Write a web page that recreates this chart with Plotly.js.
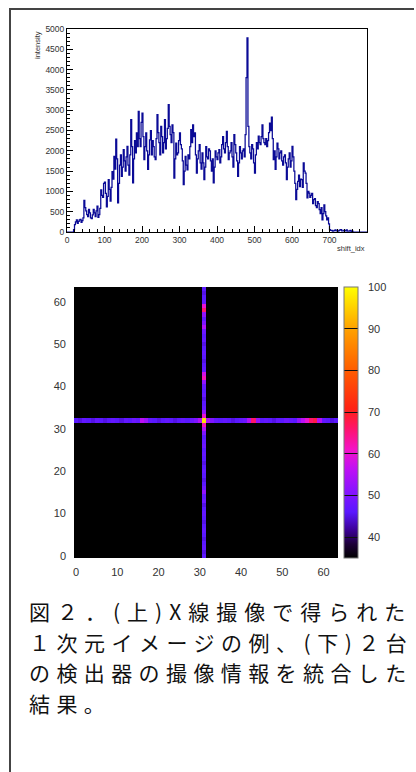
<!DOCTYPE html>
<html>
<head>
<meta charset="utf-8">
<script src="https://cdn.plot.ly/plotly-3.0.1.min.js"></script>
<style>html,body{margin:0;padding:0;background:#fff;}#chart{width:416px;height:772px;}</style>
</head>
<body>
<div id="chart"></div>
<script>
// ---- Top plot: 1D image histogram (shift_idx vs intensity), bins of width 2.5 starting at 0 ----
const binWidth = 2.5;
const intensity = [
  0,0, 0,0, 0,0, 0,60, 180,250, 300,210, 260,300, 310,240, 280,350, 780,600,
  520,430, 380,560, 470,350, 330,420, 560,470, 380,520, 640,360, 430,580, 1040,900, 850,1200,
  1230,950, 620,880, 1290,1050, 760,1100, 1490,1300, 1860,1550, 2290,1800, 720,1200, 1650,1900, 1370,1600,
  2030,1750, 1500,1850, 2110,1650, 1400,1900, 2770,2100, 1210,1800, 2250,1950, 2440,2100, 2970,2300, 2100,2700,
  2930,2350, 1780,2100, 2440,2000, 1540,1900, 2270,2500, 1900,2250, 2100,1850, 1780,2300, 2890,2450, 2200,1900,
  2600,2350, 1950,2200, 2770,2050, 2300,2550, 3140,2600, 2400,2200, 2640,2450, 1330,1800, 2190,1900, 1950,2250,
  2440,2150, 2050,1750, 1170,1500, 1860,1650, 1530,1900, 1800,2100, 2520,2200, 2640,2350, 2440,1900, 1450,1800,
  2000,2150, 1700,1550, 1950,1700, 1290,1600, 2100,1850, 1800,2050, 2000,1750, 1500,1800, 1210,1600, 2000,1850,
  1780,1950, 2030,1700, 1850,2150, 2350,2050, 1950,2200, 2480,2100, 1780,1950, 2000,2200, 1850,1600, 2400,2150,
  1950,1750, 1370,1700, 2100,1950, 1800,2000, 2050,1850, 2400,3800, 4780,2600, 2100,1950, 1800,2150, 2050,1700,
  1450,1900, 2200,2050, 2360,2200, 2150,2350, 2640,2300, 2200,2150, 2300,2100, 2250,2450, 2680,2500, 2830,2300,
  1780,2000, 1540,1850, 2190,2050, 1800,1950, 2000,1750, 1650,1850, 1900,1700, 1290,1600, 1800,1950, 1600,1750,
  2110,1850, 1500,1200, 800,1050, 1250,1400, 1120,1300, 1290,1100, 1700,1500, 1450,1200, 840,1000, 960,850,
  900,950, 700,800, 820,650, 600,750, 700,550, 450,600, 300,450, 670,500, 400,300, 350,200,
  60,40, 40,20, 30,40, 50,30, 30,20, 40,50, 60,30, 30,40, 40,30, 50,20,
  20,30, 40,10, 20,0, 0,0, 0,0, 0,0, 0,0, 0,0, 0,0, 0,0
];
const xTickVals = [0, 100, 200, 300, 400, 500, 600, 700];
const yTickVals = [0, 500, 1000, 1500, 2000, 2500, 3000, 3500, 4000, 4500, 5000];

// ---- Bottom plot: combined 64x64 image of the two detectors ----
const gridN = 64;
const backgroundVal = 35;
const crossX = 31;   // column of the vertical line
const crossY = 32;   // row of the horizontal line
const rowVals = [ // along horizontal line (y = crossY), x = 0..63
  46,45,47,46,45,47,46,45,46,47,
  46,45,47,46,48,47,56,53,47,46,
  45,46,47,46,45,46,47,46,48,50,
  55,97,55,50,47,46,47,46,45,46,
  47,48,55,66,52,46,47,46,45,47,
  46,48,47,46,52,56,60,66,68,55,
  47,46,45,46
];
const colVals = [ // along vertical line (x = crossX), y = 0..63
  46,45,47,46,45,46,47,46,45,46,
  47,46,45,48,47,52,48,46,45,46,
  47,46,45,46,47,46,48,47,46,50,
  55,62,97,60,52,47,46,45,47,46,
  47,52,62,58,47,46,45,46,47,46,
  45,47,46,48,55,50,47,52,66,60,
  47,46,45,46
];
const zRange = [35, 100];
const cbTickVals = [40, 50, 60, 70, 80, 90, 100];
const axisTickVals = [0, 10, 20, 30, 40, 50, 60];

const captionLines = [
  "図２．(上)X線撮像で得られた",
  "１次元イメージの例、(下)２台",
  "の検出器の撮像情報を統合した",
  "結果。"
];

// ---- build traces ----
const histX = intensity.map((_, i) => i * binWidth);
histX.push(intensity.length * binWidth);
const histY = intensity.slice();
histY.push(intensity[intensity.length - 1]);

const idx = Array.from({length: gridN}, (_, i) => i);
const z = idx.map(j => idx.map(i => {
  if (j === crossY) return rowVals[i];
  if (i === crossX) return colVals[j];
  return backgroundVal;
}));

const W = 416, H = 772;
const px = v => v / W;
const py = v => 1 - v / H;

const hist = {
  type: 'scatter', mode: 'lines', x: histX, y: histY,
  line: {shape: 'hv', color: '#0a0a96', width: 1.25},
  xaxis: 'x', yaxis: 'y', hoverinfo: 'skip'
};

const heat = {
  type: 'heatmap', x: idx, y: idx, z: z, zmin: zRange[0], zmax: zRange[1], zsmooth: false,
  xaxis: 'x2', yaxis: 'y2',
  colorscale: [
    [0.00, '#000000'], [0.05, '#1c0036'], [0.10, '#3a0090'], [0.17, '#5a18ff'],
    [0.25, '#8a14ff'], [0.33, '#c010f4'], [0.40, '#f414c8'], [0.48, '#ff1468'],
    [0.55, '#ff2214'], [0.70, '#ff6000'], [0.85, '#ffa400'], [1.00, '#ffff00']
  ],
  colorbar: {
    x: px(344), xanchor: 'left', xpad: 0, ypad: 0,
    y: py((287 + 558) / 2), yanchor: 'middle',
    len: (558 - 287) / H, lenmode: 'fraction',
    thickness: 14, thicknessmode: 'pixels',
    outlinewidth: 1, outlinecolor: '#777',
    tickvals: cbTickVals, ticks: 'inside', ticklen: 14, tickwidth: 1, tickcolor: '#111',
    showticklabels: false
  },
  hoverinfo: 'skip'
};

// empty trace so the colour-scale label axis is drawn
const cbAxisHolder = {type: 'scatter', mode: 'markers', x: [], y: [], xaxis: 'x2', yaxis: 'y3',
  hoverinfo: 'skip', showlegend: false};

const topFont = {family: 'Liberation Sans, Arial, sans-serif', size: 8.5, color: '#333'};
const titleFont = {family: 'Liberation Sans, Arial, sans-serif', size: 7.5, color: '#333'};
const heatFont = {family: 'Liberation Sans, Arial, sans-serif', size: 11, color: '#333'};

const annotations = [
  {xref: 'paper', yref: 'paper', x: px(37), y: py(29), xanchor: 'center', yanchor: 'top',
   text: 'intensity', textangle: -90, showarrow: false, font: titleFont},
  {xref: 'paper', yref: 'paper', x: px(367), y: py(248), xanchor: 'right', yanchor: 'middle',
   text: 'shift_idx', showarrow: false, font: titleFont}
];
const lineCenters = [611, 641.6, 672.2, 702.8];
const spacing = ['7.0px', '6.5px', '6.4px', '6.4px'];
captionLines.forEach((t, k) => {
  annotations.push({
    xref: 'paper', yref: 'paper', x: px(27), y: py(lineCenters[k]),
    xanchor: 'left', yanchor: 'middle', showarrow: false,
    text: '<span style="letter-spacing:' + spacing[k] + '">' + t + '</span>',
    font: {family: 'Noto Sans CJK JP, sans-serif', size: 21, color: '#111'}
  });
});

const layout = {
  width: W, height: H, margin: {l: 0, r: 0, t: 0, b: 0},
  paper_bgcolor: '#ffffff', plot_bgcolor: '#ffffff', showlegend: false,
  xaxis: {
    domain: [px(67), px(367)], range: [0, 800], anchor: 'y',
    showline: true, mirror: true, linecolor: '#000', linewidth: 1,
    tickvals: xTickVals, ticks: 'inside', ticklen: 6, tickcolor: '#000', tickwidth: 1,
    minor: {dtick: 20, tick0: 0, ticks: 'inside', ticklen: 3, tickcolor: '#000', showgrid: false},
    showgrid: false, zeroline: false, tickfont: topFont, ticklabelstandoff: 0
  },
  yaxis: {
    domain: [py(232), py(29)], range: [0, 5000], anchor: 'x',
    showline: true, mirror: true, linecolor: '#000', linewidth: 1,
    tickvals: yTickVals, ticks: 'inside', ticklen: 6, tickcolor: '#000', tickwidth: 1,
    minor: {dtick: 100, tick0: 0, ticks: 'inside', ticklen: 3, tickcolor: '#000', showgrid: false},
    showgrid: false, zeroline: false, tickfont: topFont, ticklabelstandoff: 0
  },
  xaxis2: {
    domain: [px(74), px(338)], range: [-0.5, 63.5], anchor: 'y2',
    tickvals: axisTickVals, ticks: '', showgrid: false, zeroline: false, showline: false,
    tickfont: heatFont, ticklabelstandoff: 6
  },
  yaxis2: {
    domain: [py(558), py(287)], range: [-0.5, 63.5], anchor: 'x2',
    tickvals: axisTickVals, ticks: '', showgrid: false, zeroline: false, showline: false,
    tickfont: heatFont, ticklabelstandoff: 7
  },
  yaxis3: {
    overlaying: 'y2', side: 'right', anchor: 'free', position: px(358),
    range: zRange, tickvals: cbTickVals, ticks: '', showgrid: false, zeroline: false,
    showline: false, tickfont: heatFont, ticklabelstandoff: 9
  },
  annotations: annotations,
  shapes: [
    {type: 'line', xref: 'paper', yref: 'paper', x0: px(9), x1: px(414), y0: py(9), y1: py(9),
     line: {color: '#444', width: 2}},
    {type: 'line', xref: 'paper', yref: 'paper', x0: px(10), x1: px(10), y0: py(8), y1: 0,
     line: {color: '#444', width: 2}}
  ]
};

Plotly.newPlot('chart', [hist, heat, cbAxisHolder], layout, {staticPlot: true, displayModeBar: false});
</script>
</body>
</html>
